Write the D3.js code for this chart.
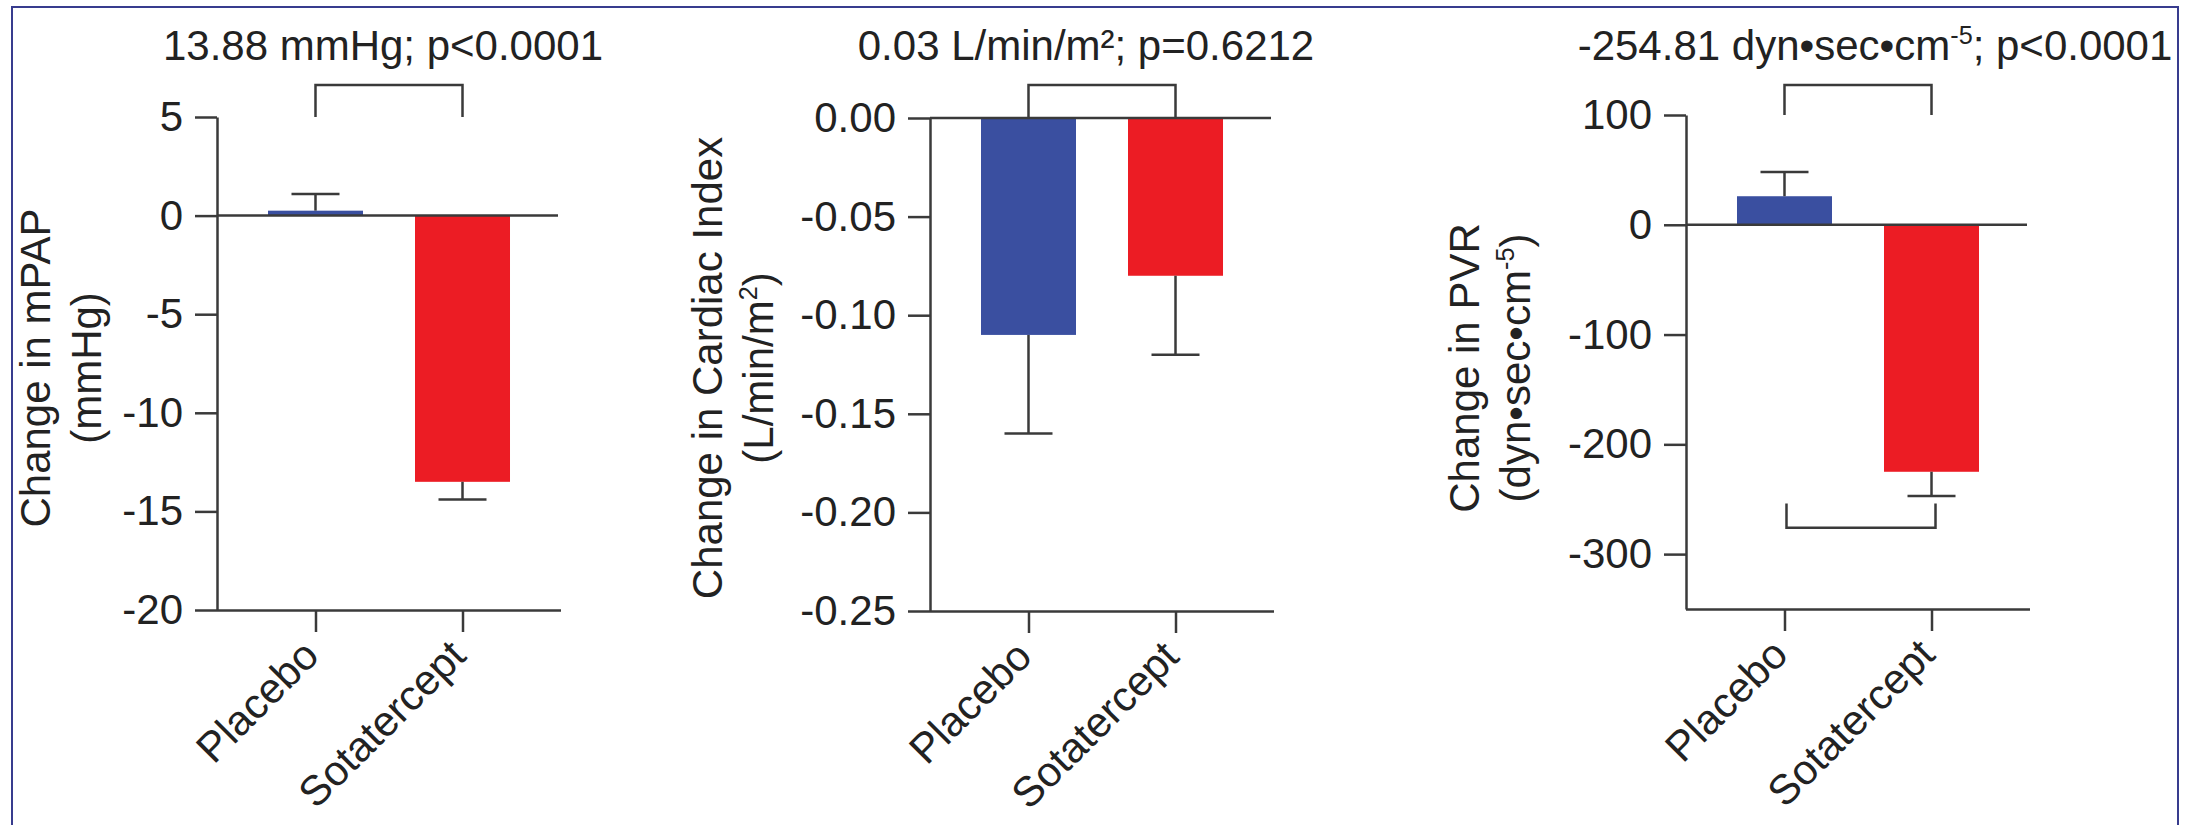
<!DOCTYPE html>
<html>
<head>
<meta charset="utf-8">
<script src="https://cdn.jsdelivr.net/npm/d3@7"></script>
<style>
  html, body { margin: 0; padding: 0; background: #fff; }
  svg { display: block; font-family: "Liberation Sans", Arial, Helvetica, sans-serif; }
</style>
</head>
<body>
<svg id="chart" width="2193" height="825"></svg>
<script>
// categories
var groups = ["Placebo", "Sotatercept"];

// change in mPAP (mmHg)
var mpapMeans = [0.25, -13.5];
var mpapErrs = [0.85, 0.9];
var mpapTicks = [5, 0, -5, -10, -15, -20];

// change in cardiac index (L/min/m2)
var ciMeans = [-0.11, -0.08];
var ciErrs = [0.05, 0.04];
var ciTicks = [0, -0.05, -0.10, -0.15, -0.20, -0.25];

// change in PVR (dyn*sec*cm-5)
var pvrMeans = [26, -225];
var pvrErrs = [22, 22];
var pvrTicks = [100, 0, -100, -200, -300];

var colors = ["#3a4fa0", "#ec1c24"];
var ink = "#3a3a3a", txt = "#222";
var fs = 42;

var svg = d3.select("#chart");

// thin blue frame round the figure
svg.append("rect")
    .attr("x", 12).attr("y", 7)
    .attr("width", 2166).attr("height", 840)
    .attr("fill", "none")
    .attr("stroke", "#383c8e")
    .attr("stroke-width", 2);

var dash = function(d) { return String(d).replace("\u2212", "-"); };

var panels = [
  {
    means: mpapMeans, errs: mpapErrs, ticks: mpapTicks, domain: [-20, 5],
    fmt: d3.format("d"),
    title: [{t: "13.88 mmHg; p<0.0001"}],
    label1: [{t: "Change in mPAP"}], label2: [{t: "(mmHg)"}],
    left: 217, right: 561, top: 117, bottom: 610,
    titleX: 383, labelX: [50, 101], lowBracket: null
  },
  {
    means: ciMeans, errs: ciErrs, ticks: ciTicks, domain: [-0.25, 0],
    fmt: d3.format(".2f"),
    title: [{t: "0.03 L/min/m\u00b2; p=0.6212"}],
    label1: [{t: "Change in Cardiac Index"}],
    label2: [{t: "(L/min/m"}, {t: "2", sup: true}, {t: ")"}],
    left: 930, right: 1274, top: 118, bottom: 611,
    titleX: 1086, labelX: [722, 773], lowBracket: null
  },
  {
    means: pvrMeans, errs: pvrErrs, ticks: pvrTicks, domain: [-350, 100],
    fmt: d3.format("d"),
    title: [{t: "-254.81 dyn\u2022sec\u2022cm"}, {t: "-5", sup: true}, {t: "; p<0.0001"}],
    label1: [{t: "Change in PVR"}],
    label2: [{t: "(dyn\u2022sec\u2022cm"}, {t: "-5", sup: true}, {t: ")"}],
    left: 1686, right: 2030, top: 115, bottom: 609,
    titleX: 1875, labelX: [1479, 1530], lowBracket: [-276, -254]
  }
];

// writes text pieces, raising the superscript ones
function writeText(sel, parts) {
  var shift = 0;
  parts.forEach(function(p) {
    var ts = sel.append("tspan").text(p.t);
    if (p.sup) {
      ts.attr("font-size", fs * 0.6).attr("dy", -16);
      shift = 16;
    } else if (shift) {
      ts.attr("dy", shift);
      shift = 0;
    }
  });
}

function styleAxis(g) {
  g.selectAll("path, line").attr("stroke", ink).attr("stroke-width", 2.5);
  g.selectAll("text").attr("fill", txt).attr("font-size", fs)
      .attr("font-family", "'Liberation Sans', Arial, sans-serif");
}

panels.forEach(function(p) {
  var g = svg.append("g");

  var y = d3.scaleLinear().domain(p.domain).range([p.bottom, p.top]);
  var x = d3.scalePoint().domain(groups).range([p.left, p.right]).padding(0.67);

  var rows = groups.map(function(k, i) {
    return {name: k, mean: p.means[i], err: p.errs[i]};
  });

  // bars
  g.selectAll(".bar").data(rows).enter().append("rect")
      .attr("class", "bar")
      .attr("x", function(d) { return x(d.name) - 47.5; })
      .attr("width", 95)
      .attr("y", function(d) { return Math.min(y(d.mean), y(0)); })
      .attr("height", function(d) { return Math.abs(y(d.mean) - y(0)); })
      .attr("fill", function(d, i) { return colors[i]; });

  // error bars, only on the outer side of each bar
  var errEnd = function(d) { return d.mean + (d.mean < 0 ? -d.err : d.err); };
  g.selectAll(".err").data(rows).enter().append("line")
      .attr("x1", function(d) { return x(d.name); })
      .attr("x2", function(d) { return x(d.name); })
      .attr("y1", function(d) { return y(d.mean); })
      .attr("y2", function(d) { return y(errEnd(d)); })
      .attr("stroke", ink).attr("stroke-width", 2.5);
  g.selectAll(".cap").data(rows).enter().append("line")
      .attr("x1", function(d) { return x(d.name) - 24; })
      .attr("x2", function(d) { return x(d.name) + 24; })
      .attr("y1", function(d) { return y(errEnd(d)); })
      .attr("y2", function(d) { return y(errEnd(d)); })
      .attr("stroke", ink).attr("stroke-width", 2.5);

  // zero line
  g.append("line")
      .attr("x1", p.left).attr("x2", p.right - 3)
      .attr("y1", y(0)).attr("y2", y(0))
      .attr("stroke", ink).attr("stroke-width", 2.5);

  // y axis
  g.append("g")
      .attr("transform", "translate(" + p.left + ",0)")
      .call(d3.axisLeft(y).tickValues(p.ticks).tickSize(22).tickSizeOuter(0)
          .tickPadding(12).tickFormat(function(d) { return dash(p.fmt(d)); }))
      .call(styleAxis);

  // x axis with slanted group names
  var xa = g.append("g")
      .attr("transform", "translate(0," + p.bottom + ")")
      .call(d3.axisBottom(x).tickSize(22).tickSizeOuter(0))
      .call(styleAxis);
  xa.select(".domain").attr("d", "M" + p.left + ",0.5H" + p.right);
  xa.selectAll(".tick text")
      .attr("x", 0).attr("y", 0).attr("dy", 0)
      .attr("text-anchor", "end")
      .attr("transform", "translate(5,48) rotate(-45)");

  // comparison bracket above the bars
  var xa0 = x(groups[0]), xb0 = x(groups[1]);
  g.append("path")
      .attr("d", "M" + xa0 + "," + p.top + "V85H" + xb0 + "V" + p.top)
      .attr("fill", "none").attr("stroke", ink).attr("stroke-width", 2.5);

  if (p.lowBracket) {
    g.append("path")
        .attr("d", "M" + (xa0 + 2) + "," + y(p.lowBracket[1]) + "V" + y(p.lowBracket[0]) +
              "H" + (xb0 + 4) + "V" + y(p.lowBracket[1]))
        .attr("fill", "none").attr("stroke", ink).attr("stroke-width", 2.5);
  }

  // title
  var t = g.append("text")
      .attr("x", p.titleX).attr("y", 60)
      .attr("text-anchor", "middle")
      .attr("font-size", fs).attr("fill", txt);
  writeText(t, p.title);

  // y label, two lines
  [p.label1, p.label2].forEach(function(parts, i) {
    var lt = g.append("text")
        .attr("transform", "translate(" + p.labelX[i] + ",368) rotate(-90)")
        .attr("text-anchor", "middle")
        .attr("font-size", fs).attr("fill", txt);
    writeText(lt, parts);
  });
});
</script>
</body>
</html>
